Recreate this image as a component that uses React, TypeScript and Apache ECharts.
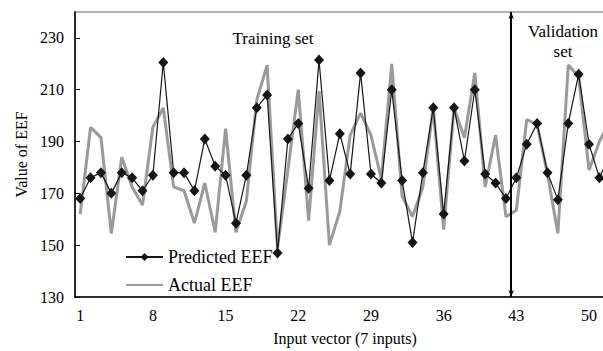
import React, { useEffect, useRef } from "react";
import * as echarts from "echarts";

const categories = [
  "1", "2", "3", "4", "5", "6", "7", "8", "9", "10",
  "11", "12", "13", "14", "15", "16", "17", "18", "19", "20",
  "21", "22", "23", "24", "25", "26", "27", "28", "29", "30",
  "31", "32", "33", "34", "35", "36", "37", "38", "39", "40",
  "41", "42", "43", "44", "45", "46", "47", "48", "49", "50",
  "51", "52",
];

const predicted = [
  168, 176, 178, 170, 178, 176, 171, 177, 220.5, 178,
  178, 171, 191, 180.5, 177, 158.5, 177, 203, 208, 147,
  191, 197, 172, 221.5, 175, 193, 177.5, 216.5, 177.5, 174,
  210, 175, 151, 178, 203, 162, 203, 182.5, 210, 177.5,
  174, 168, 176, 189, 197, 178, 167.5, 197, 216, 189,
  176, 185,
];

const actual = [
  162, 195.5, 191.5, 154.5, 184, 172.5, 165.5, 195.5, 203, 172.5,
  171, 158.5, 174, 155, 195, 155, 167, 206, 219.5, 149,
  179, 210, 159.5, 209.5, 150, 163, 192.5, 201, 192.5, 175.5,
  220, 169, 161, 172.5, 203, 156, 203, 191.5, 216.5, 172.5,
  192.5, 161, 163.5, 198.5, 196.5, 177.5, 154.5, 219.5, 215, 179,
  190, 198,
];

const yTicks = [130, 150, 170, 190, 210, 230];
const splitPosition = 42.5;

const FONT = "Liberation Serif";

export default function App() {
  const ref = useRef<HTMLDivElement>(null);

  useEffect(() => {
    if (!ref.current) return;
    const chart = echarts.init(ref.current, undefined, { renderer: "svg" });
    const option: any = {
      animation: false,
      textStyle: { fontFamily: FONT, color: "#000" },
      grid: {
        left: 75,
        top: 12,
        bottom: 51,
        right: 0,
        show: true,
        borderColor: "#666",
        borderWidth: 1.2,
        backgroundColor: "transparent",
      },
      legend: {
        orient: "vertical",
        left: 120,
        top: 243,
        itemWidth: 37,
        itemHeight: 10,
        itemGap: 10,
        textStyle: { fontFamily: FONT, fontSize: 18, color: "#000" },
        data: [
          { name: "Predicted EEF" },
          { name: "Actual EEF", itemStyle: { opacity: 0 } },
        ],
      },
      xAxis: [
        {
          type: "category",
          data: categories,
          boundaryGap: true,
          name: "Input vector (7 inputs)",
          nameLocation: "middle",
          nameGap: 33,
          nameTextStyle: { fontFamily: FONT, fontSize: 16, color: "#000" },
          axisLine: { lineStyle: { color: "#000", width: 1.5 } },
          axisTick: {
            inside: true,
            length: 4,
            interval: 0,
            lineStyle: { color: "#000", width: 1 },
          },
          axisLabel: {
            interval: 6,
            fontFamily: FONT,
            fontSize: 16,
            color: "#000",
            margin: 10,
          },
          splitLine: { show: false },
        },
        {
          type: "value",
          min: 0.5,
          max: 52.5,
          show: false,
          gridIndex: 0,
          splitLine: { show: false },
        },
      ],
      yAxis: {
        type: "value",
        min: 130,
        max: 240,
        name: "Value of EEF",
        nameLocation: "middle",
        nameGap: 45,
        nameTextStyle: { fontFamily: FONT, fontSize: 16, color: "#000" },
        axisLine: { show: true, lineStyle: { color: "#000", width: 1.5 } },
        axisTick: {
          show: true,
          inside: true,
          length: 5,
          customValues: yTicks,
          lineStyle: { color: "#000", width: 1 },
        },
        axisLabel: {
          customValues: yTicks,
          fontFamily: FONT,
          fontSize: 16,
          color: "#000",
          margin: 11,
        },
        splitLine: { show: false },
      },
      graphic: [
        {
          type: "text",
          x: 273,
          y: 38,
          style: {
            text: "Training set",
            fontFamily: FONT,
            fontSize: 17,
            fill: "#000",
            align: "center",
            verticalAlign: "middle",
          },
        },
        {
          type: "text",
          x: 563,
          y: 41,
          style: {
            text: "Validation\nset",
            fontFamily: FONT,
            fontSize: 17,
            lineHeight: 20,
            fill: "#000",
            align: "center",
            verticalAlign: "middle",
          },
        },
      ],
      series: [
        {
          name: "Actual EEF",
          type: "line",
          data: actual,
          symbol: "none",
          color: "#9a9a9a",
          lineStyle: { color: "#9a9a9a", width: 3 },
          z: 2,
        },
        {
          name: "Predicted EEF",
          type: "line",
          data: predicted,
          symbol: "diamond",
          symbolSize: [10, 11],
          showAllSymbol: true,
          color: "#151515",
          itemStyle: { color: "#151515" },
          lineStyle: { color: "#151515", width: 1.2 },
          z: 3,
        },
        {
          name: "divider",
          type: "line",
          xAxisIndex: 1,
          yAxisIndex: 0,
          data: [],
          symbol: "none",
          silent: true,
          markLine: {
            silent: true,
            symbol: ["arrow", "arrow"],
            symbolSize: [4, 7],
            label: { show: false },
            lineStyle: { color: "#000", width: 2, type: "solid" },
            data: [{ xAxis: splitPosition }],
          },
          z: 4,
        },
      ],
    };
    chart.setOption(option);
    return () => chart.dispose();
  }, []);

  return (
    <div
      style={{
        position: "absolute",
        left: 0,
        top: 0,
        width: 603,
        height: 351,
        overflow: "hidden",
      }}
    >
      <div ref={ref} style={{ width: 615, height: 351 }} />
    </div>
  );
}
